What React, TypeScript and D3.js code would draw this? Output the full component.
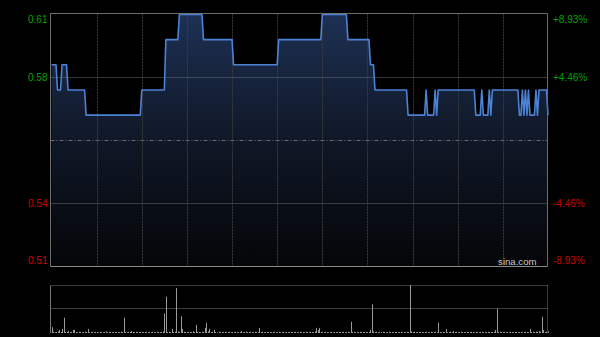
import React from 'react';
import * as d3 from 'd3';

// Intraday minute prices (HKD), 09:30–12:00 and 13:00–16:00, 331 points
const prices: number[] = [
  0.59, 0.59, 0.59, 0.59, 0.58, 0.58, 0.58, 0.59, 0.59, 0.59,
  0.59, 0.58, 0.58, 0.58, 0.58, 0.58, 0.58, 0.58, 0.58, 0.58,
  0.58, 0.58, 0.58, 0.57, 0.57, 0.57, 0.57, 0.57, 0.57, 0.57,
  0.57, 0.57, 0.57, 0.57, 0.57, 0.57, 0.57, 0.57, 0.57, 0.57,
  0.57, 0.57, 0.57, 0.57, 0.57, 0.57, 0.57, 0.57, 0.57, 0.57,
  0.57, 0.57, 0.57, 0.57, 0.57, 0.57, 0.57, 0.57, 0.57, 0.57,
  0.58, 0.58, 0.58, 0.58, 0.58, 0.58, 0.58, 0.58, 0.58, 0.58,
  0.58, 0.58, 0.58, 0.58, 0.58, 0.58, 0.60, 0.60, 0.60, 0.60,
  0.60, 0.60, 0.60, 0.60, 0.60, 0.61, 0.61, 0.61, 0.61, 0.61,
  0.61, 0.61, 0.61, 0.61, 0.61, 0.61, 0.61, 0.61, 0.61, 0.61,
  0.61, 0.60, 0.60, 0.60, 0.60, 0.60, 0.60, 0.60, 0.60, 0.60,
  0.60, 0.60, 0.60, 0.60, 0.60, 0.60, 0.60, 0.60, 0.60, 0.60,
  0.60, 0.59, 0.59, 0.59, 0.59, 0.59, 0.59, 0.59, 0.59, 0.59,
  0.59, 0.59, 0.59, 0.59, 0.59, 0.59, 0.59, 0.59, 0.59, 0.59,
  0.59, 0.59, 0.59, 0.59, 0.59, 0.59, 0.59, 0.59, 0.59, 0.59,
  0.59, 0.60, 0.60, 0.60, 0.60, 0.60, 0.60, 0.60, 0.60, 0.60,
  0.60, 0.60, 0.60, 0.60, 0.60, 0.60, 0.60, 0.60, 0.60, 0.60,
  0.60, 0.60, 0.60, 0.60, 0.60, 0.60, 0.60, 0.60, 0.60, 0.60,
  0.61, 0.61, 0.61, 0.61, 0.61, 0.61, 0.61, 0.61, 0.61, 0.61,
  0.61, 0.61, 0.61, 0.61, 0.61, 0.61, 0.61, 0.60, 0.60, 0.60,
  0.60, 0.60, 0.60, 0.60, 0.60, 0.60, 0.60, 0.60, 0.60, 0.60,
  0.60, 0.60, 0.59, 0.59, 0.59, 0.58, 0.58, 0.58, 0.58, 0.58,
  0.58, 0.58, 0.58, 0.58, 0.58, 0.58, 0.58, 0.58, 0.58, 0.58,
  0.58, 0.58, 0.58, 0.58, 0.58, 0.58, 0.58, 0.57, 0.57, 0.57,
  0.57, 0.57, 0.57, 0.57, 0.57, 0.57, 0.57, 0.57, 0.57, 0.58,
  0.57, 0.57, 0.57, 0.57, 0.57, 0.58, 0.57, 0.58, 0.58, 0.58,
  0.58, 0.58, 0.58, 0.58, 0.58, 0.58, 0.58, 0.58, 0.58, 0.58,
  0.58, 0.58, 0.58, 0.58, 0.58, 0.58, 0.58, 0.58, 0.58, 0.58,
  0.58, 0.58, 0.57, 0.57, 0.57, 0.57, 0.58, 0.57, 0.57, 0.57,
  0.57, 0.58, 0.57, 0.58, 0.58, 0.58, 0.58, 0.58, 0.58, 0.58,
  0.58, 0.58, 0.58, 0.58, 0.58, 0.58, 0.58, 0.58, 0.58, 0.58,
  0.58, 0.57, 0.57, 0.58, 0.57, 0.58, 0.57, 0.58, 0.57, 0.57,
  0.57, 0.57, 0.58, 0.57, 0.58, 0.58, 0.58, 0.58, 0.58, 0.58,
  0.57,
];

// Minute volumes (arbitrary units)
const volumes: number[] = [
  56, 12, 8, 10, 15, 30, 10, 40, 150, 12,
  10, 20, 8, 12, 30, 30, 10, 8, 12, 10,
  8, 10, 12, 10, 40, 8, 10, 12, 8, 10,
  10, 8, 12, 10, 8, 10, 15, 8, 10, 12,
  8, 10, 12, 8, 10, 8, 12, 10, 150, 10,
  8, 12, 10, 20, 10, 8, 12, 10, 8, 10,
  12, 8, 10, 12, 8, 10, 8, 12, 10, 8,
  10, 12, 8, 10, 15, 190, 356, 10, 12, 8,
  40, 10, 12, 440, 15, 10, 163, 40, 12, 10,
  8, 12, 10, 8, 15, 10, 80, 12, 10, 8,
  10, 12, 50, 100, 15, 40, 10, 12, 30, 10,
  8, 12, 10, 8, 10, 12, 8, 10, 12, 8,
  10, 8, 12, 10, 8, 10, 20, 8, 10, 12,
  8, 10, 12, 8, 10, 12, 10, 8, 50, 10,
  12, 8, 10, 12, 8, 10, 8, 12, 10, 8,
  10, 12, 8, 10, 12, 8, 10, 8, 12, 10,
  8, 10, 12, 8, 10, 12, 8, 10, 8, 12,
  10, 8, 12, 10, 8, 15, 50, 30, 50, 12,
  10, 8, 12, 10, 8, 10, 12, 8, 10, 8,
  12, 10, 8, 10, 12, 8, 10, 12, 8, 110,
  10, 12, 8, 10, 8, 12, 10, 8, 10, 12,
  8, 10, 30, 280, 15, 10, 12, 8, 10, 8,
  12, 10, 8, 10, 12, 8, 10, 8, 12, 10,
  8, 10, 12, 8, 10, 8, 12, 10, 470, 15,
  10, 12, 8, 10, 8, 12, 10, 8, 10, 12,
  8, 10, 12, 8, 10, 12, 8, 100, 10, 8,
  12, 10, 40, 8, 10, 12, 8, 20, 10, 12,
  8, 10, 12, 8, 10, 8, 12, 10, 8, 12,
  10, 8, 12, 10, 8, 10, 12, 8, 10, 8,
  12, 10, 8, 10, 12, 30, 240, 10, 12, 8,
  10, 12, 8, 10, 8, 12, 10, 8, 12, 10,
  8, 10, 12, 8, 10, 12, 10, 8, 40, 10,
  12, 8, 15, 10, 20, 12, 160, 30, 10, 12,
  15,
];

const prevClose = 0.56;
const priceMin = 0.51;
const priceMax = 0.61;
const gridPrices = [0.61, 0.585, 0.535, 0.51];
const leftLabels = ['0.61', '0.58', '0.54', '0.51'];
const rightLabels = ['+8.93%', '+4.46%', '-4.46%', '-8.93%'];
const labelUp = [true, true, false, false];
const timeGridMinutes = [30, 60, 90, 120, 150, 180, 210, 240, 270, 300];

const FONT = '"Liberation Sans", Arial, Helvetica, sans-serif';

export default function App() {
  const L = 50.5, R = 547.5, T = 13.5, B = 266.5;
  const VT = 285.5, VB = 333, VM = 308.5;

  const x = d3.scaleLinear().domain([0, prices.length - 1]).range([51.5, 548]);
  const y = d3.scaleLinear().domain([priceMin, priceMax]).range([266, 14.5]);
  const yv = d3.scaleLinear().domain([0, d3.max(volumes) as number]).range([VB, 285]);

  const line = d3.line<number>().x((_, i) => x(i)).y((d) => y(d));
  const area = d3.area<number>().x((_, i) => x(i)).y0(B).y1((d) => y(d));

  return (
    <svg width={600} height={337} style={{ position: 'absolute', left: 0, top: 0, background: '#000' }}>
      <defs>
        <linearGradient id="fillGrad" gradientUnits="userSpaceOnUse" x1="0" y1={T} x2="0" y2={B}>
          <stop offset="0%" stopColor="#1d3054" />
          <stop offset="45%" stopColor="#111a2b" />
          <stop offset="100%" stopColor="#040507" />
        </linearGradient>
        <clipPath id="plotClip">
          <rect x={L} y={T} width={R - L} height={B - T} />
        </clipPath>
      </defs>
      <rect x={0} y={0} width={600} height={337} fill="#000" />

      <path d={area(prices) || ''} fill="url(#fillGrad)" clipPath="url(#plotClip)" />

      {/* vertical grid */}
      {timeGridMinutes.map((m) => (
        <line key={m} x1={Math.round(x(m)) + 0.5} x2={Math.round(x(m)) + 0.5} y1={T} y2={B}
          stroke="#3c3c3c" strokeWidth={1} strokeDasharray="2,1" />
      ))}
      {/* horizontal grid */}
      {gridPrices.slice(1, 3).map((p) => (
        <line key={p} x1={L} x2={R} y1={Math.round(y(p)) + 0.5} y2={Math.round(y(p)) + 0.5}
          stroke="#6a6a6a" strokeWidth={1} strokeDasharray="1,1" />
      ))}
      <line x1={L} x2={R} y1={Math.round(y(prevClose)) + 0.5} y2={Math.round(y(prevClose)) + 0.5}
        stroke="#6a6a6a" strokeWidth={1} strokeDasharray="4,2,1,2" />

      <path d={line(prices) || ''} fill="none" stroke="#4b82d6" strokeWidth={1.6} strokeLinejoin="round" />

      {/* border */}
      <line x1={L} x2={R} y1={T} y2={T} stroke="#6e6e6e" />
      <line x1={L} x2={L} y1={T} y2={B} stroke="#6e6e6e" />
      <line x1={R} x2={R} y1={T} y2={B} stroke="#6e6e6e" />
      <line x1={L} x2={R} y1={B} y2={B} stroke="#8a8a8a" />

      {/* axis labels */}
      {gridPrices.map((p, i) => {
        const cy = Math.min(Math.max(y(p), 19), 260.5);
        return (
          <g key={p}>
            <text x={47.5} y={cy + 3.6} textAnchor="end" fontFamily={FONT} fontSize={10}
              fill={labelUp[i] ? '#00a000' : '#cc0000'}>{leftLabels[i]}</text>
            <text x={553} y={cy + 3.6} textAnchor="start" fontFamily={FONT} fontSize={10}
              fill={labelUp[i] ? '#00a000' : '#cc0000'}>{rightLabels[i]}</text>
          </g>
        );
      })}

      <text x={536.5} y={265} textAnchor="end" fontFamily={FONT} fontSize={9.6} fill="#c8c8c8">sina.com</text>

      {/* volume panel */}
      <line x1={L} x2={R} y1={VT} y2={VT} stroke="#777" strokeDasharray="1,1" />
      <line x1={L} x2={R} y1={VM} y2={VM} stroke="#777" strokeDasharray="1,1" />
      <line x1={L} x2={L} y1={VT} y2={VB} stroke="#777" />
      <line x1={R} x2={R} y1={VT} y2={VB} stroke="#777" strokeDasharray="1,1" />
      {volumes.map((v, i) => (
        <line key={i} x1={Math.round(x(i)) + 0.5} x2={Math.round(x(i)) + 0.5} y1={VB} y2={yv(v)}
          stroke="#9a9a9a" strokeWidth={1} />
      ))}
    </svg>
  );
}
